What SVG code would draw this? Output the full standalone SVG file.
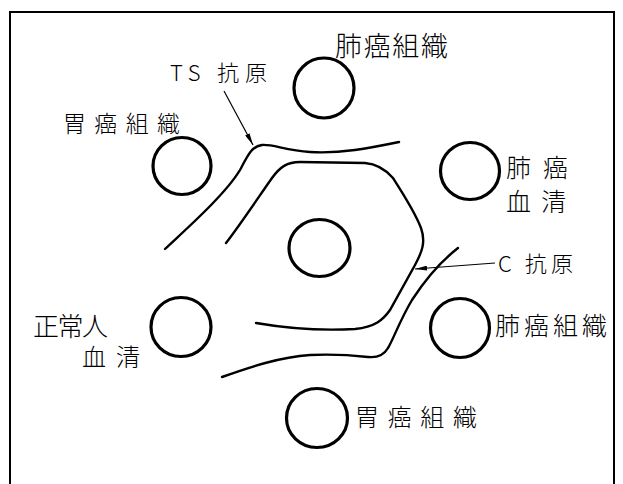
<svg xmlns="http://www.w3.org/2000/svg" width="623" height="484" viewBox="0 0 623 484">
<defs>
<style>
.well{fill:none;stroke:#000;stroke-width:3.2}
.band{fill:none;stroke:#000;stroke-width:2.4;stroke-linecap:round}
.lead{fill:none;stroke:#000;stroke-width:1.2}
.frame{fill:none;stroke:#000;stroke-width:2}
text{font-family:"Noto Sans CJK JP","Noto Sans CJK SC",sans-serif;font-weight:300;fill:#000}
</style>
<marker id="ah" viewBox="0 0 12 5" refX="12" refY="2.5" markerWidth="12" markerHeight="5" markerUnits="userSpaceOnUse" orient="auto">
<path d="M0,0 L12,2.5 L0,5 z" fill="#000"/>
</marker>
</defs>
<rect width="623" height="484" fill="#fff"/>
<path class="frame" d="M10,484 V12 H614 V484"/>

<g id="well-top">
<ellipse class="well" cx="324" cy="88" rx="30" ry="30"/>
<text x="335" y="56" font-size="27" textLength="113" lengthAdjust="spacing">肺癌組織</text>
</g>
<g id="well-upper-left">
<ellipse class="well" cx="182" cy="166" rx="29" ry="28.5"/>
<text x="63" y="132" font-size="23" textLength="117" lengthAdjust="spacing">胃癌組織</text>
</g>
<g id="well-upper-right">
<ellipse class="well" cx="470" cy="171" rx="29.5" ry="28.5"/>
<text x="506" y="177" font-size="25" textLength="62" lengthAdjust="spacing">肺癌</text>
<text x="506" y="211" font-size="25" textLength="60" lengthAdjust="spacing">血清</text>
</g>
<g id="well-center">
<ellipse class="well" cx="319.5" cy="248" rx="30.5" ry="28.5"/>
</g>
<g id="well-lower-left">
<ellipse class="well" cx="181" cy="327" rx="30" ry="29.5"/>
<text x="33" y="336" font-size="26" textLength="75" lengthAdjust="spacing">正常人</text>
<text x="82" y="366" font-size="24" textLength="58" lengthAdjust="spacing">血清</text>
</g>
<g id="well-lower-right">
<ellipse class="well" cx="460" cy="328" rx="29.5" ry="29.5"/>
<text x="495" y="335" font-size="25" textLength="112" lengthAdjust="spacing">肺癌組織</text>
</g>
<g id="well-bottom">
<ellipse class="well" cx="317" cy="418" rx="30.5" ry="29.5"/>
<text x="355" y="426" font-size="24" textLength="122" lengthAdjust="spacing">胃癌組織</text>
</g>

<g id="precipitin-lines">
<path class="band" d="M165,249 C185,230 225,195 240,170 C248,155 252,146 262,145 C272,144 285,150 310,152 C340,154 370,148 399,142"/>
<path class="band" d="M226,243 C240,225 260,195 272,178 C280,167 287,162 300,162 L365,163 C378,164 386,170 393,178 C402,192 415,212 421,228 C426,242 422,252 415,265 L390,310 C383,320 375,327 355,329 C320,331 285,328 256,323"/>
<path class="band" d="M458,248 C440,262 425,280 412,300 C400,320 393,340 388,348 C384,355 378,358 368,357 C350,355 330,354 310,355 C280,357 250,367 222,377"/>
</g>

<g id="connectors">
<line class="lead" x1="224" y1="91" x2="253" y2="145" marker-end="url(#ah)"/>
<line class="lead" x1="495" y1="263" x2="415" y2="269" marker-end="url(#ah)"/>
</g>
<g id="label-ts">
<text x="170" y="81" font-size="22" textLength="97" lengthAdjust="spacing">TS 抗原</text>
</g>
<g id="label-c">
<text x="498" y="272" font-size="22" textLength="75" lengthAdjust="spacing">C 抗原</text>
</g>
</svg>
